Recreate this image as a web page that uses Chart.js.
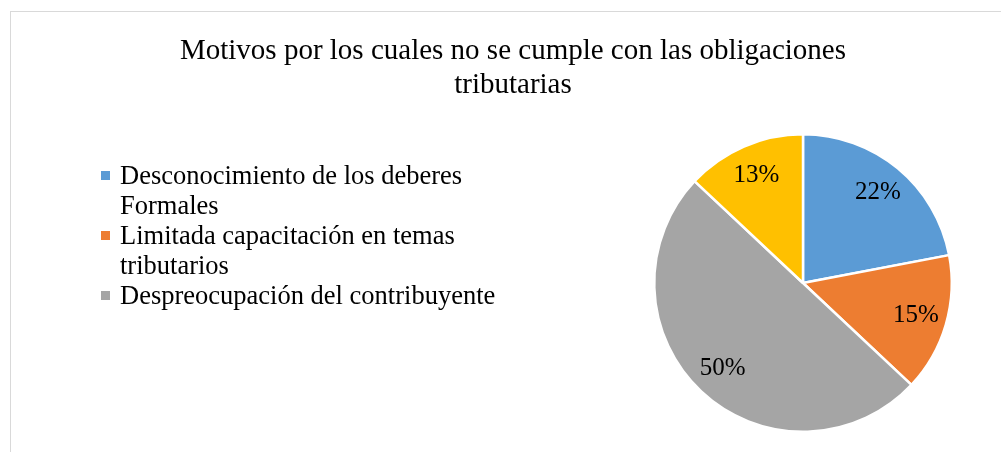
<!DOCTYPE html>
<html lang="es">
<head>
<meta charset="utf-8">
<title>Motivos por los cuales no se cumple con las obligaciones tributarias</title>
<script src="https://cdn.jsdelivr.net/npm/chart.js@4.4.1/dist/chart.umd.min.js"></script>
<style>
  html, body { margin: 0; padding: 0; background: #fff; }
  #wrap { position: relative; width: 1001px; height: 452px; overflow: hidden;
          font-family: "Liberation Serif", "Times New Roman", serif; color: #000; }
  #frame { position: absolute; left: 10px; top: 11px; width: 1100px; height: 500px;
           border-top: 1px solid #d9d9d9; border-left: 1px solid #d9d9d9; }
  #chart { position: absolute; left: 0; top: 0; }
  #title { position: absolute; left: 163px; width: 700px; top: 31.5px; margin: 0;
           text-align: center; font-size: 29px; line-height: 34px; font-weight: normal; }
  #legend { position: absolute; left: 101px; top: 160px; margin: 0; padding: 0;
            list-style: none; font-size: 26.5px; line-height: 30px; }
  #legend li { display: flex; align-items: flex-start; }
  #legend .box { flex: none; width: 9px; height: 9px; margin-top: 11px; margin-right: 10px; }
  #legend .txt { max-width: 390px; }
</style>
</head>
<body>
<div id="wrap">
  <div id="frame"></div>
  <canvas id="chart" width="1001" height="452"></canvas>
  <h1 id="title">Motivos por los cuales no se cumple con las obligaciones tributarias</h1>
  <ul id="legend"></ul>
</div>
<script>
// Datos del gráfico
const categorias = [
    'Desconocimiento de los deberes Formales',
    'Limitada capacitación en temas tributarios',
    'Despreocupación del contribuyente',
    ''
];
const valores = [22, 15, 50, 13];
const colores = ['#5b9bd5', '#ed7d31', '#a5a5a5', '#ffc000'];

// Etiquetas de porcentaje dentro de cada sector
const etiquetasPct = {
    id: 'etiquetasPct',
    afterDatasetsDraw(chart) {
        const ctx = chart.ctx;
        const meta = chart.getDatasetMeta(0);
        ctx.save();
        ctx.font = '25px "Liberation Serif"';
        ctx.fillStyle = '#000';
        ctx.textAlign = 'center';
        ctx.textBaseline = 'middle';
        meta.data.forEach((arc, i) => {
            const p = arc.getProps(['x', 'y', 'startAngle', 'endAngle', 'outerRadius']);
            const a = (p.startAngle + p.endAngle) / 2;
            const r = p.outerRadius * 0.79;
            ctx.fillText(valores[i] + '%', p.x + Math.cos(a) * r, p.y + Math.sin(a) * r);
        });
        ctx.restore();
    }
};

const ctx = document.getElementById('chart').getContext('2d');
const chart = new Chart(ctx, {
    type: 'pie',
    data: {
        labels: categorias,
        datasets: [{
            data: valores,
            backgroundColor: colores,
            borderColor: '#ffffff',
            borderWidth: 2.5
        }]
    },
    options: {
        responsive: false,
        animation: false,
        layout: {
            padding: { left: 653, right: 48, top: 133, bottom: 19 }
        },
        plugins: {
            legend: { display: false },
            title: { display: false },
            tooltip: { enabled: false }
        }
    },
    plugins: [etiquetasPct]
});

// Leyenda (la cuarta categoría no aparece en el original)
const legend = document.getElementById('legend');
chart.data.labels.forEach((texto, i) => {
    if (!texto) return;
    const li = document.createElement('li');
    const box = document.createElement('span');
    box.className = 'box';
    box.style.background = colores[i];
    const txt = document.createElement('span');
    txt.className = 'txt';
    txt.textContent = texto;
    li.appendChild(box);
    li.appendChild(txt);
    legend.appendChild(li);
});
</script>
</body>
</html>
